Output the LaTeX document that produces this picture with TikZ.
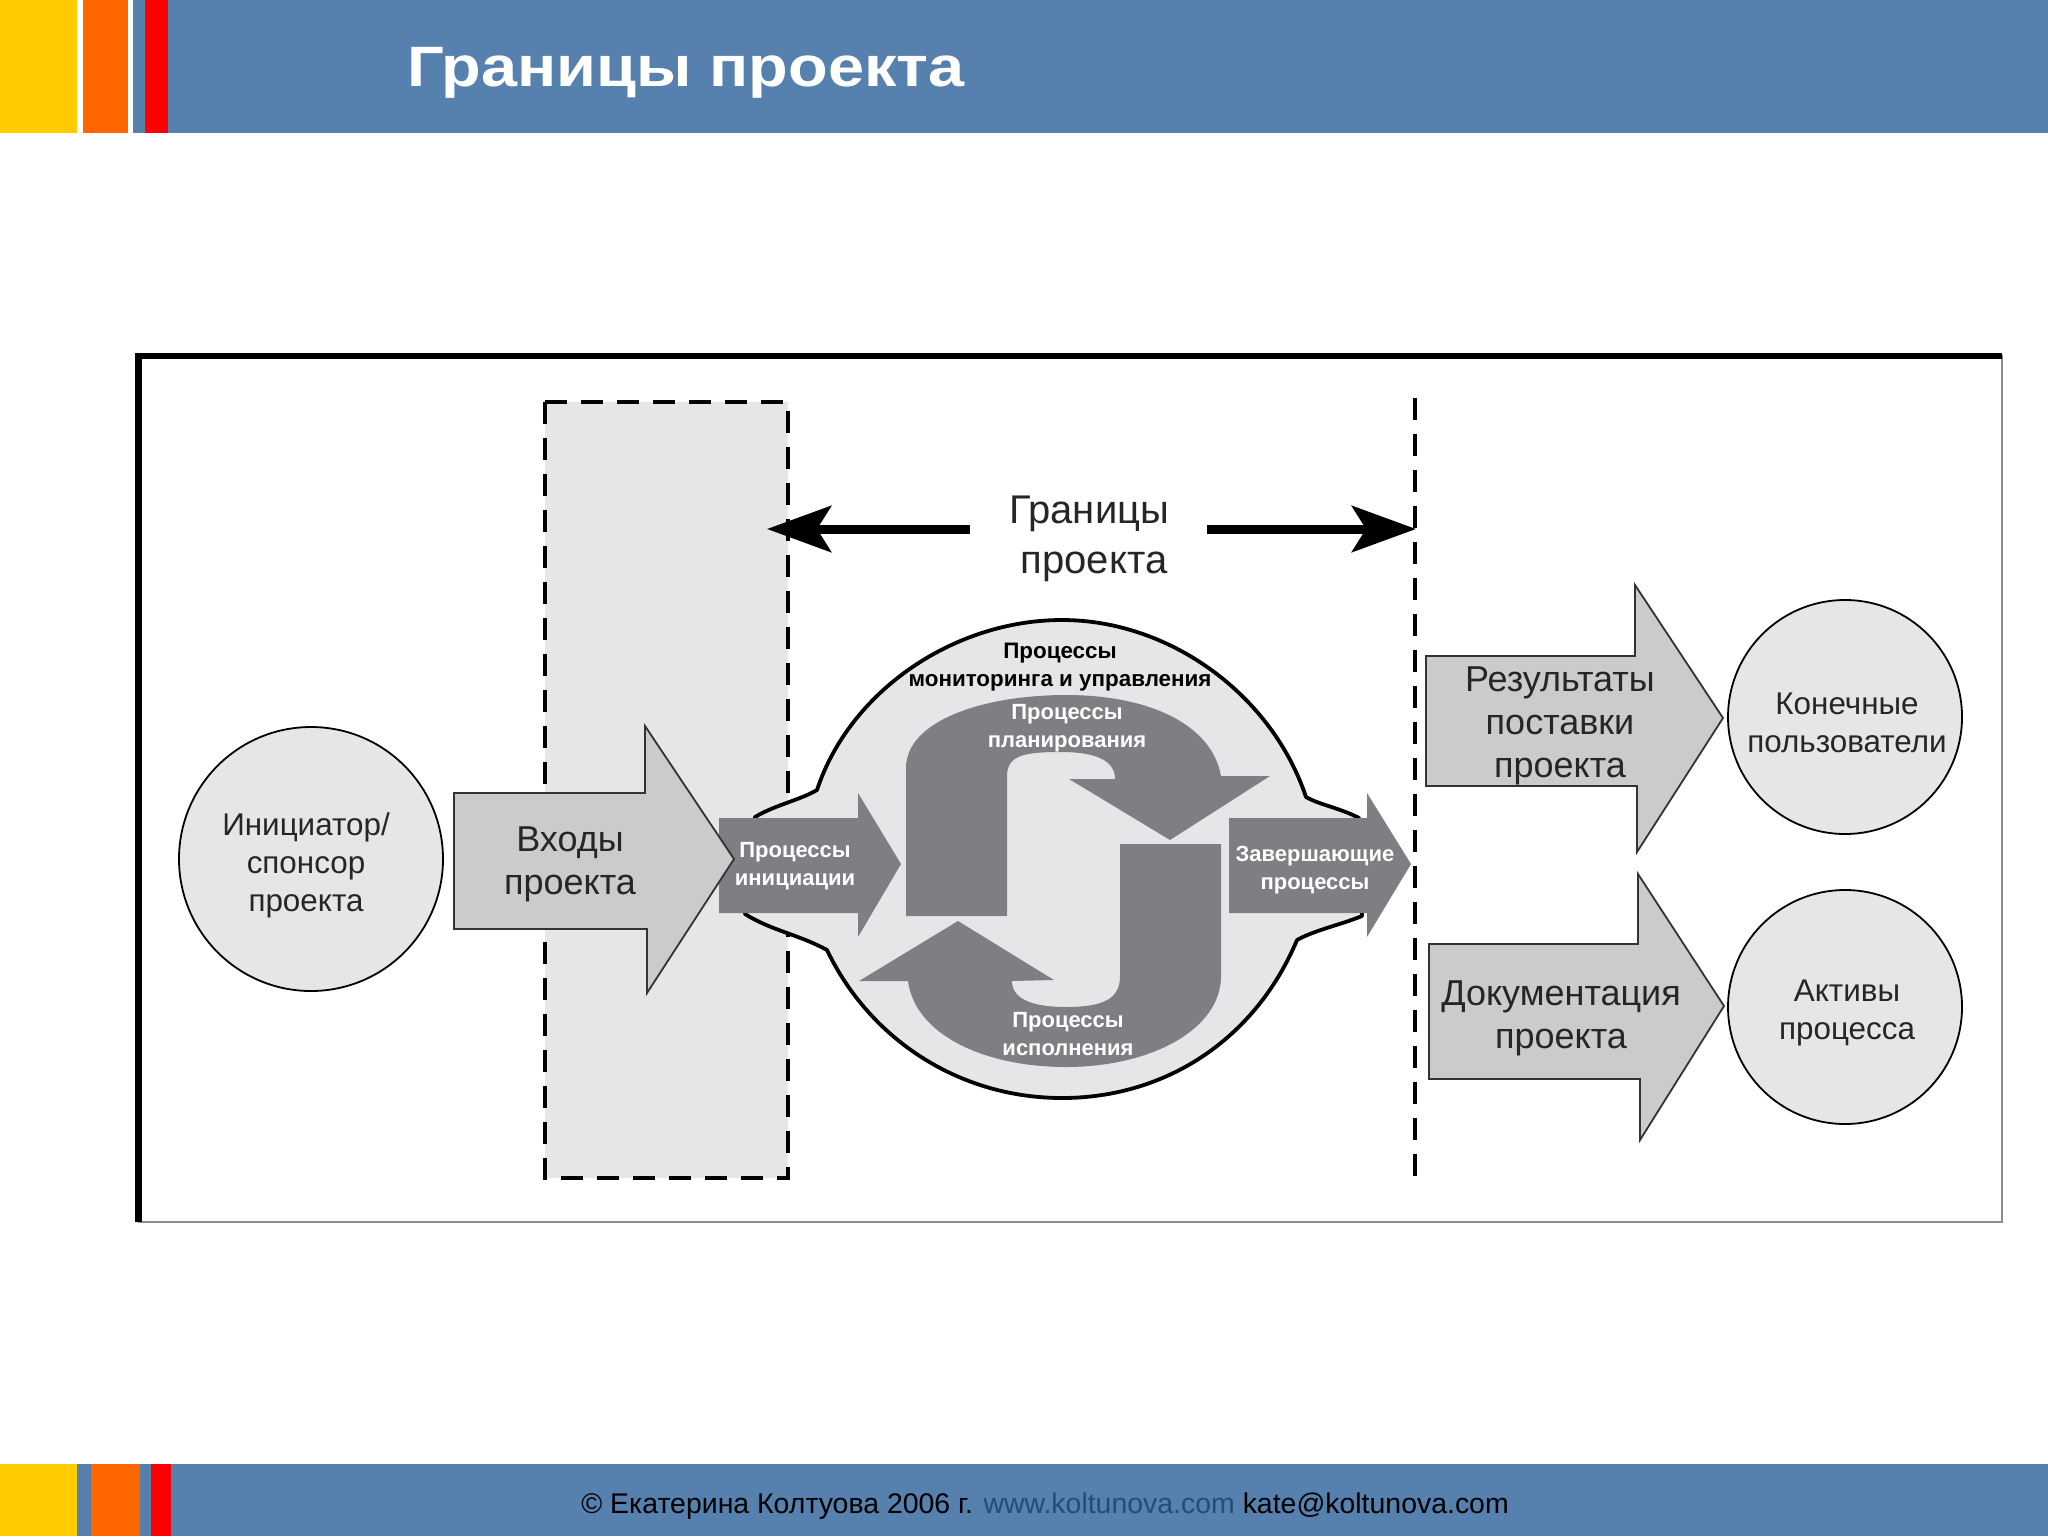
\documentclass[tikz,border=0pt]{standalone}
\usepackage{fontspec}
\setmainfont{Liberation Sans}
\usetikzlibrary{arrows.meta}
\definecolor{hdr}{HTML}{5680AE}
\definecolor{yel}{HTML}{FFCC00}
\definecolor{org}{HTML}{FF6600}
\definecolor{lgray}{HTML}{E6E6E8}
\definecolor{mgray}{HTML}{CBCBCD}
\definecolor{dgray}{HTML}{7F7E82}
\definecolor{lnk}{HTML}{1F4E79}
\tikzset{
  blockarrow/.style={fill=mgray,draw=black!80,line width=0.9pt},
  darkarrow/.style={fill=dgray},
  disc/.style={circle,fill=lgray,draw=black,line width=0.9pt,inner sep=0pt,minimum size=#1},
  boundary/.style={draw=black,line width=2pt,dash pattern=on 11pt off 7pt},
  bigtxt/.style={align=center,inner sep=0pt,text=black!85,font=\fontsize{18}{21.5}\selectfont},
  hugetxt/.style={align=center,inner sep=0pt,text=black!85,font=\fontsize{20}{25}\selectfont},
  midtxt/.style={align=center,inner sep=0pt,text=black!85,font=\fontsize{15.7}{19}\selectfont},
  smalltxt/.style={align=center,inner sep=0pt,text=white,font=\bfseries\fontsize{11}{14}\selectfont},
  blacktxt/.style={align=center,inner sep=0pt,text=black,font=\bfseries\fontsize{11.2}{14}\selectfont},
  limit/.style={line width=4.5pt,-{Stealth[length=32pt,width=23pt,inset=7pt]}},
}
\begin{document}
\begin{tikzpicture}[x=0.5pt,y=-0.5pt]
\useasboundingbox (0,0) rectangle (2048,1536);
\fill[white] (0,0) rectangle (2048,1536);
% header
\fill[hdr] (0,0) rectangle (2048,133);
\fill[white] (0,0) rectangle (145,133);
\fill[hdr] (133,0) rectangle (145,133);
\fill[yel] (0,0) rectangle (77,133);
\fill[org] (83,0) rectangle (128,133);
\fill[red] (145,0) rectangle (168,133);
\node[anchor=base west,inner sep=0pt,text=white,font=\bfseries\fontsize{28.5}{30}\selectfont,xscale=1.138,transform shape] (title) at (407,87) {Границы проекта};
% footer
\fill[hdr] (0,1464) rectangle (2048,1536);
\fill[yel] (0,1464) rectangle (77,1536);
\fill[org] (91,1464) rectangle (140,1536);
\fill[red] (151,1464) rectangle (171,1536);
\node[anchor=base west,inner sep=0pt,text=black,font=\fontsize{14.22}{16}\selectfont] (foot) at (581,1513) {© Екатерина Колтуова 2006 г. \textcolor{lnk}{www.koltunova.com} kate@koltunova.com};
% frame
\draw[black!45,line width=0.7pt] (139,356) rectangle (2002,1222);
\fill[black] (135,353) rectangle (2002,359);
\fill[black] (135,353) rectangle (142,1222);
% dashed zone
\draw[boundary,fill=lgray] (545,402) rectangle (788,1178);
\coordinate (bt) at (1415,398);
\coordinate (bb) at (1415,1180);
\draw[boundary] (bt) -- (bb);
% boundary label and arrows
\node[hugetxt] (bl) at (1089,539) {Границы\\ \hspace*{5pt}проекта};
\coordinate (lstart) at (970,529);
\coordinate (lend) at (767,529);
\coordinate (rstart) at (1207,529);
\coordinate (rend) at (1416,529);
\draw[limit] (lstart) -- (lend);
\draw[limit] (rstart) -- (rend);
% initiator
\node[disc=132pt] (sponsor) at (311,859) {};
\node[midtxt] (sponsort) at (306,865) {Инициатор/\\ спонсор\\ проекта};
% blob
\filldraw[fill=lgray,draw=black,line width=1.9pt,line join=round]
  (755,817) .. controls (775,805) and (800,800) .. (817,790)
  .. controls (850,690) and (955,620) .. (1062,620)
  .. controls (1170,620) and (1272,695) .. (1306,797)
  .. controls (1320,805) and (1340,808) .. (1359,818)
  -- (1362,916) .. controls (1340,925) and (1315,930) .. (1297,940)
  .. controls (1255,1040) and (1165,1098) .. (1062,1098)
  .. controls (960,1098) and (870,1040) .. (827,950)
  .. controls (800,935) and (770,930) .. (745,914) -- cycle;
% initiation / closing
\fill[darkarrow] (719,818) -- (858,818) -- (858,793) -- (901,864) -- (858,937) -- (858,913) -- (719,913) -- cycle;
\fill[darkarrow] (1229,818) -- (1367,818) -- (1367,793) -- (1411,864) -- (1367,937) -- (1367,913) -- (1229,913) -- cycle;
% inputs
\draw[blockarrow] (454,793) -- (645,793) -- (645,726) -- (734,859) -- (647,993) -- (647,929) -- (454,929) -- cycle;
\node[bigtxt] (inputs) at (570,864) {Входы\\ проекта};
% planning
\fill[darkarrow] (906,916) -- (906,768) .. controls (906,720) and (985,695) .. (1066,695)
  .. controls (1150,695) and (1212,725) .. (1221,776) -- (1270,776) -- (1170,840) -- (1069,779) -- (1115,779)
  .. controls (1115,760) and (1095,752) .. (1061,752) .. controls (1025,752) and (1007,755) .. (1007,776) -- (1007,916) -- cycle;
% execution
\fill[darkarrow] (1120,844) -- (1221,844) -- (1221,976) .. controls (1221,1030) and (1150,1067) .. (1066,1067)
  .. controls (985,1067) and (915,1035) .. (908,981) -- (859,981) -- (958,921) -- (1054,980) -- (1012,981)
  .. controls (1012,998) and (1030,1007) .. (1066,1007) .. controls (1105,1007) and (1120,998) .. (1120,976) -- cycle;
% process labels
\node[blacktxt] (monitor) at (1060,667) {Процессы\\ мониторинга и управления};
\node[smalltxt] (plan) at (1067,728) {Процессы\\ планирования};
\node[smalltxt] (exec) at (1068,1034) {Процессы\\ исполнения};
\node[smalltxt] (init) at (795,866) {Процессы\\ инициации};
\node[smalltxt] (close) at (1315,870) {Завершающие\\ процессы};
% outputs
\draw[blockarrow] (1426,656) -- (1635,656) -- (1635,585) -- (1723,718) -- (1637,852) -- (1637,786) -- (1426,786) -- cycle;
\node[bigtxt] (results) at (1560,726) {Результаты\\ поставки\\ проекта};
\draw[blockarrow] (1429,944) -- (1638,944) -- (1638,874) -- (1724,1006) -- (1640,1140) -- (1640,1079) -- (1429,1079) -- cycle;
\node[bigtxt] (docs) at (1561,1018) {Документация\\ проекта};
% receivers
\node[disc=117pt] (users) at (1845,717) {};
\node[midtxt] (userst) at (1847,723) {Конечные\\ пользователи};
\node[disc=117pt] (assets) at (1845,1007) {};
\node[midtxt] (assetst) at (1847,1013) {Активы\\ процесса};
\end{tikzpicture}
\end{document}
